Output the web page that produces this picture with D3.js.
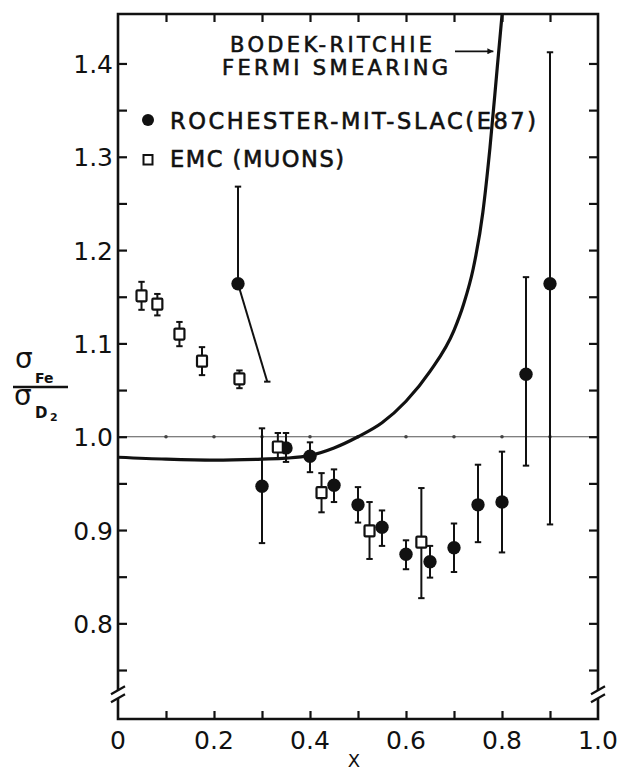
<!DOCTYPE html>
<html>
<head>
<meta charset="utf-8">
<script src="https://cdn.jsdelivr.net/npm/d3@7/dist/d3.min.js"></script>
<style>
  html, body { margin: 0; padding: 0; background: #fff; }
  svg { display: block; }
  text { font-family: "DejaVu Sans", sans-serif; fill: #111; }
</style>
</head>
<body>
<script>
// Rochester-MIT-SLAC (E87), filled circles
const e87X  = [0.25, 0.30, 0.35, 0.40, 0.45, 0.50, 0.55, 0.60, 0.65, 0.70, 0.75, 0.80, 0.85, 0.90];
const e87Y  = [1.164, 0.947, 0.988, 0.979, 0.948, 0.927, 0.903, 0.874, 0.866, 0.881, 0.927, 0.930, 1.067, 1.164];
const e87Hi = [1.268, 1.009, 1.004, 0.994, 0.965, 0.946, 0.921, 0.889, 0.883, 0.907, 0.970, 0.984, 1.171, 1.412];
const e87Lo = [1.164, 0.886, 0.973, 0.962, 0.930, 0.908, 0.883, 0.858, 0.849, 0.855, 0.887, 0.876, 0.969, 0.906];

// the slanted lower bar drawn from the x = 0.25 point
const slantX = [0.25, 0.311];
const slantY = [1.164, 1.059];

// EMC (muons), open squares
const emcX  = [0.049, 0.082, 0.128, 0.175, 0.253, 0.333, 0.424, 0.524, 0.632];
const emcY  = [1.151, 1.142, 1.110, 1.081, 1.062, 0.989, 0.940, 0.899, 0.887];
const emcHi = [1.166, 1.153, 1.123, 1.096, 1.071, 1.004, 0.961, 0.930, 0.945];
const emcLo = [1.136, 1.130, 1.097, 1.066, 1.052, 0.977, 0.919, 0.869, 0.827];

// Bodek-Ritchie Fermi smearing curve
const curveX = [0, 0.1, 0.2, 0.3, 0.35, 0.4, 0.45, 0.5, 0.55, 0.6, 0.65, 0.7, 0.72, 0.74, 0.76, 0.775, 0.79, 0.805];
const curveY = [0.978, 0.976, 0.975, 0.976, 0.977, 0.980, 0.988, 1.0, 1.015, 1.038, 1.070, 1.114, 1.142, 1.180, 1.240, 1.310, 1.395, 1.480];

// ticks
const xTickVals   = [0.1, 0.2, 0.3, 0.4, 0.5, 0.6, 0.7, 0.8, 0.9];
const xLabelVals  = [0, 0.2, 0.4, 0.6, 0.8, 1.0];
const xLabels     = ["0", "0.2", "0.4", "0.6", "0.8", "1.0"];
const yTickVals   = [0.75, 0.8, 0.85, 0.9, 0.95, 1.0, 1.05, 1.1, 1.15, 1.2, 1.25, 1.3, 1.35, 1.4];
const yLabelVals  = [0.8, 0.9, 1.0, 1.1, 1.2, 1.3, 1.4];
const yLabels     = ["0.8", "0.9", "1.0", "1.1", "1.2", "1.3", "1.4"];
const yBreak = 0.724;

const width = 619, height = 771;
const svg = d3.select("body").append("svg")
  .attr("width", width)
  .attr("height", height);

const x = d3.scaleLinear().domain([0, 1]).range([118, 598]);
const y = d3.scaleLinear().domain([0.6975, 1.453]).range([719, 14]);

const ink = "#111";

// reference line at 1.0 with small dots
svg.append("line")
  .attr("x1", x(0)).attr("x2", x(1))
  .attr("y1", y(1)).attr("y2", y(1))
  .attr("stroke", "#555").attr("stroke-width", 1.1);
svg.append("g").selectAll("circle")
  .data(xTickVals)
  .join("circle")
  .attr("cx", d => x(d)).attr("cy", y(1)).attr("r", 1.8)
  .attr("fill", "#444");

// clip for the curve
svg.append("clipPath").attr("id", "plot")
  .append("rect")
  .attr("x", x(0)).attr("y", y.range()[1])
  .attr("width", x(1) - x(0)).attr("height", y.range()[0] - y.range()[1]);

const line = d3.line()
  .x(d => x(d[0]))
  .y(d => y(d[1]))
  .curve(d3.curveMonotoneX);

svg.append("path")
  .datum(curveX.map((v, i) => [v, curveY[i]]))
  .attr("clip-path", "url(#plot)")
  .attr("fill", "none")
  .attr("stroke", ink)
  .attr("stroke-width", 3.2)
  .attr("d", line);

// axes box with breaks
const x0 = x(0), x1 = x(1), yt = y.range()[1], yb = y.range()[0];
const bTop = y(yBreak) - 4, bBot = y(yBreak) + 4;
const box = d3.path();
box.moveTo(x0, bTop); box.lineTo(x0, yt); box.lineTo(x1, yt); box.lineTo(x1, bTop);
box.moveTo(x1, bBot); box.lineTo(x1, yb); box.lineTo(x0, yb); box.lineTo(x0, bBot);
svg.append("path")
  .attr("d", box.toString())
  .attr("fill", "none")
  .attr("stroke", ink)
  .attr("stroke-width", 2.6);

[x0, x1].forEach(xx => {
  [bTop, bBot].forEach(yy => {
    svg.append("line")
      .attr("x1", xx - 7).attr("y1", yy + 4)
      .attr("x2", xx + 7).attr("y2", yy - 4)
      .attr("stroke", ink).attr("stroke-width", 2.2);
  });
});

// ticks (all pointing inward)
const fmtY = d => { const i = yLabelVals.findIndex(v => Math.abs(v - d) < 1e-6); return i < 0 ? "" : yLabels[i]; };

const gLeft = svg.append("g")
  .attr("transform", `translate(${x0},0)`)
  .call(d3.axisLeft(y).tickValues(yTickVals).tickSize(-9).tickPadding(5).tickFormat(fmtY));
const gRight = svg.append("g")
  .attr("transform", `translate(${x1},0)`)
  .call(d3.axisRight(y).tickValues(yTickVals).tickSize(-9).tickFormat(""));
const gTop = svg.append("g")
  .attr("transform", `translate(0,${yt})`)
  .call(d3.axisTop(x).tickValues(xTickVals).tickSize(-8).tickFormat(""));
const gBottom = svg.append("g")
  .attr("transform", `translate(0,${yb})`)
  .call(d3.axisBottom(x).tickValues(xTickVals).tickSize(-8).tickFormat(""));

[gLeft, gRight, gTop, gBottom].forEach(g => {
  g.select(".domain").remove();
  g.selectAll(".tick line").attr("stroke", ink).attr("stroke-width", 2.2);
});
gLeft.selectAll(".tick text")
  .attr("font-size", 25)
  .attr("font-family", "DejaVu Sans")
  .attr("fill", ink)
  .attr("dy", "0.36em");

// x tick labels
svg.append("g").selectAll("text")
  .data(xLabelVals)
  .join("text")
  .attr("x", d => x(d))
  .attr("y", 749)
  .attr("text-anchor", "middle")
  .attr("font-size", 25)
  .text((d, i) => xLabels[i]);

svg.append("text")
  .attr("x", x(0.5) - 4).attr("y", 767)
  .attr("text-anchor", "middle")
  .attr("font-size", 18)
  .text("X");

// y label: sigma_Fe / sigma_D2
const yl = svg.append("g");
yl.append("text").attr("x", 15).attr("y", 368).attr("font-size", 28).text("σ");
yl.append("text").attr("x", 35).attr("y", 383).attr("font-size", 14).attr("font-weight", "bold").text("Fe");
yl.append("line").attr("x1", 13).attr("x2", 68).attr("y1", 387).attr("y2", 387)
  .attr("stroke", ink).attr("stroke-width", 2.4);
yl.append("text").attr("x", 14).attr("y", 405).attr("font-size", 28).text("σ");
yl.append("text").attr("x", 35).attr("y", 418).attr("font-size", 15).attr("font-weight", "bold").text("D");
yl.append("text").attr("x", 50).attr("y", 421).attr("font-size", 11).attr("font-weight", "bold").text("2");

// error bars
const cap = 3.2;
function errBars(xs, ys, his, los) {
  const g = svg.append("g").attr("stroke", ink).attr("stroke-width", 2);
  xs.forEach((xv, i) => {
    g.append("line")
      .attr("x1", x(xv)).attr("x2", x(xv))
      .attr("y1", y(his[i])).attr("y2", y(los[i]));
    g.append("line")
      .attr("x1", x(xv) - cap).attr("x2", x(xv) + cap)
      .attr("y1", y(his[i])).attr("y2", y(his[i]));
    if (los[i] < ys[i]) g.append("line")
      .attr("x1", x(xv) - cap).attr("x2", x(xv) + cap)
      .attr("y1", y(los[i])).attr("y2", y(los[i]));
  });
}
errBars(e87X, e87Y, e87Hi, e87Lo);
errBars(emcX, emcY, emcHi, emcLo);

// slanted bar
svg.append("line")
  .attr("x1", x(slantX[0])).attr("y1", y(slantY[0]))
  .attr("x2", x(slantX[1])).attr("y2", y(slantY[1]))
  .attr("stroke", ink).attr("stroke-width", 2);
svg.append("line")
  .attr("x1", x(slantX[1]) - cap).attr("x2", x(slantX[1]) + cap)
  .attr("y1", y(slantY[1])).attr("y2", y(slantY[1]))
  .attr("stroke", ink).attr("stroke-width", 2);

// markers
svg.append("g").selectAll("circle")
  .data(e87X)
  .join("circle")
  .attr("cx", d => x(d))
  .attr("cy", (d, i) => y(e87Y[i]))
  .attr("r", 6.7)
  .attr("fill", ink);

svg.append("g").selectAll("rect")
  .data(emcX)
  .join("rect")
  .attr("x", d => x(d) - 5)
  .attr("y", (d, i) => y(emcY[i]) - 5.5)
  .attr("width", 10).attr("height", 11)
  .attr("rx", 1)
  .attr("fill", "#fff")
  .attr("stroke", ink)
  .attr("stroke-width", 2.2);

// curve annotation
const heavy = sel => sel.attr("stroke", ink).attr("stroke-width", 0.6);
svg.append("text").attr("x", 331).attr("y", 52).attr("text-anchor", "middle")
  .attr("font-size", 21).attr("textLength", 202).attr("lengthAdjust", "spacing")
  .call(heavy)
  .text("BODEK-RITCHIE");
svg.append("text").attr("x", 335).attr("y", 75).attr("text-anchor", "middle")
  .attr("font-size", 21).attr("textLength", 226).attr("lengthAdjust", "spacing")
  .call(heavy)
  .text("FERMI SMEARING");

svg.append("defs").append("marker")
  .attr("id", "arrow").attr("viewBox", "0 0 10 10")
  .attr("refX", 10).attr("refY", 5)
  .attr("markerWidth", 9).attr("markerHeight", 6)
  .attr("markerUnits", "userSpaceOnUse")
  .attr("orient", "auto")
  .append("path").attr("d", "M0,0 L10,5 L0,10 Z").attr("fill", ink);
svg.append("line")
  .attr("x1", 455).attr("x2", x(0.782))
  .attr("y1", y(1.413)).attr("y2", y(1.413))
  .attr("stroke", ink).attr("stroke-width", 1.8)
  .attr("marker-end", "url(#arrow)");

// legend
svg.append("circle").attr("cx", 148).attr("cy", 120).attr("r", 6).attr("fill", ink);
svg.append("text").attr("x", 170).attr("y", 128.5)
  .attr("font-size", 22.5).attr("textLength", 366).attr("lengthAdjust", "spacing")
  .call(heavy)
  .text("ROCHESTER-MIT-SLAC(E87)");
svg.append("rect").attr("x", 143.5).attr("y", 155).attr("width", 9).attr("height", 9.5)
  .attr("fill", "#fff").attr("stroke", ink).attr("stroke-width", 2);
svg.append("text").attr("x", 170).attr("y", 167)
  .attr("font-size", 22.5).attr("textLength", 174).attr("lengthAdjust", "spacing")
  .call(heavy)
  .text("EMC (MUONS)");
</script>
</body>
</html>
